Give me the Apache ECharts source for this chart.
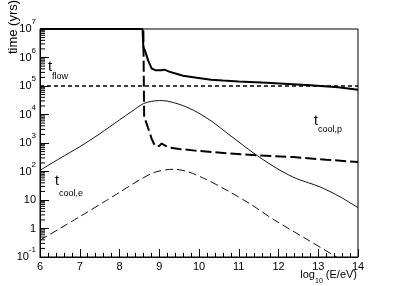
<!DOCTYPE html>
<html><head><meta charset="utf-8">
<script src="https://cdn.jsdelivr.net/npm/echarts@6/dist/echarts.min.js"></script>
<style>html,body{margin:0;padding:0;background:#fff}#c{width:398px;height:286px}</style>
</head><body><div id="c"></div>
<script>
// axis ticks
const xTicks = [6, 7, 8, 9, 10, 11, 12, 13, 14];
const yDecades = [-1, 0, 1, 2, 3, 4, 5, 6, 7];

// thick solid curve
const thickSolidE = [6, 8.58, 8.6, 8.64, 8.72, 8.81, 8.9, 9.05, 9.13, 9.17, 9.25, 9.6, 9.9, 10.3, 10.6, 11.0, 11.7, 12.8, 13.5, 14];
const thickSolidT = [1e7, 1e7, 2.2e6, 1.78e6, 7.9e5, 4.1e5, 3.6e5, 3.6e5, 3.75e5, 3.5e5, 3.2e5, 2.3e5, 2.0e5, 1.66e5, 1.55e5, 1.45e5, 1.3e5, 1.07e5, 9.1e4, 7.4e4];

// thick dashed curve
const thickDashE = [6, 8.6, 8.62, 8.64, 8.68, 8.75, 8.81, 8.89, 9.0, 9.06, 9.1, 9.16, 9.25, 9.5, 9.9, 10.78, 11.45, 12.37, 13.2, 14];
const thickDashT = [1e7, 1e7, 8100, 7100, 4900, 2500, 1400, 800, 780, 960, 850, 790, 700, 620, 540, 430, 370, 320, 260, 214];

// thin solid curve (t_cool,p)
const thinSolidE = [6, 6.5, 7, 7.5, 8, 8.3, 8.6, 8.8, 9.0, 9.2, 9.5, 9.86, 10.3, 10.78, 11.45, 12.04, 12.46, 13.04, 13.55, 14];
const thinSolidT = [110, 290, 740, 2090, 6460, 12600, 24000, 28800, 30900, 29500, 22900, 14100, 6030, 1860, 372, 110, 56, 29, 12.9, 5.4];

// thin dashed curve (t_cool,e)
const thinDashE = [6, 6.5, 7, 7.68, 8, 8.52, 8.9, 9.35, 9.7, 10.19, 10.78, 11.3, 11.87, 12.71, 13.46, 13.6];
const thinDashT = [0.39, 1.0, 2.6, 9.8, 18.6, 52, 95, 120, 100, 52, 19, 7.1, 2.1, 0.42, 0.1, 0.076];

// t_flow
const flowE = [6, 14];
const flowT = [1e5, 1e5];

const zip = (a, b) => a.map((v, i) => [v, b[i]]);

// log minor tick positions (2..9 x 10^k)
const minorY = [];
for (let k = yDecades[0]; k < yDecades[yDecades.length - 1]; k++) {
  for (let m = 2; m <= 9; m++) minorY.push([xTicks[0], m * Math.pow(10, k)]);
}

const FONT = '"Liberation Sans", Arial, Helvetica, sans-serif';
const chart = echarts.init(document.getElementById('c'), null, {renderer: 'canvas'});

chart.setOption({
  animation: false,
  backgroundColor: '#fff',
  grid: {left: 40, top: 29, width: 318, height: 228, show: true, borderColor: '#000', borderWidth: 1, containLabel: false},
  xAxis: {
    type: 'value', min: xTicks[0], max: xTicks[xTicks.length - 1], interval: 1,
    axisLine: {lineStyle: {color: '#000', width: 1}},
    axisTick: {inside: true, length: 8, lineStyle: {color: '#000'}},
    minorTick: {show: true, splitNumber: 5, length: 4, lineStyle: {color: '#000'}},
    splitLine: {show: false},
    axisLabel: {color: '#000', fontSize: 11, fontFamily: FONT, margin: 4}
  },
  yAxis: {
    type: 'log', logBase: 10, min: 0.1, max: 1e7,
    axisLine: {lineStyle: {color: '#000', width: 1}},
    axisTick: {inside: true, length: 9, lineStyle: {color: '#000'}},
    splitLine: {show: false},
    axisLabel: {
      margin: 4, color: '#000', fontFamily: FONT,
      formatter: function (v) {
        const e = Math.round(Math.log10(v));
        if (e === 0) return '{b|1}';
        if (e === 1) return '{b|10}';
        return '{b|10}{s|' + e + '}';
      },
      rich: {
        b: {fontSize: 11, lineHeight: 22, fontFamily: FONT, color: '#000'},
        s: {fontSize: 8, lineHeight: 8, verticalAlign: 'top', fontFamily: FONT, color: '#000'}
      }
    }
  },
  series: [
    {type: 'line', data: zip(thickSolidE, thickSolidT), showSymbol: false, lineStyle: {color: '#000', width: 2}, z: 5},
    {type: 'line', data: zip(thickDashE, thickDashT), showSymbol: false, lineStyle: {color: '#000', width: 2, type: [11, 4]}, z: 5},
    {type: 'line', data: zip(thinSolidE, thinSolidT), showSymbol: false, smooth: 0.3, lineStyle: {color: '#111', width: 1}, z: 4},
    {type: 'line', data: zip(thinDashE, thinDashT), showSymbol: false, smooth: 0.3, lineStyle: {color: '#111', width: 1, type: [8, 4]}, z: 4},
    {type: 'line', data: zip(flowE, flowT), showSymbol: false, lineStyle: {color: '#000', width: 1.5, type: [4, 3]}, z: 4},
    {
      type: 'custom', data: minorY, silent: true, z: 6,
      renderItem: function (params, api) {
        const p = api.coord([api.value(0), api.value(1)]);
        return {type: 'line', shape: {x1: p[0], y1: p[1], x2: p[0] + 5, y2: p[1]}, style: {stroke: '#000', lineWidth: 1}};
      }
    }
  ],
  graphic: [
    {type: 'text', x: 13, y: 27, rotation: Math.PI / 2, style: {text: 'time (yrs)', font: '13px ' + FONT, fill: '#000', align: 'center', verticalAlign: 'middle'}},
    {type: 'text', x: 48, y: 67, style: {text: 't', font: '15px ' + FONT, fill: '#000', align: 'left', verticalAlign: 'middle'}},
    {type: 'text', x: 52, y: 77, style: {text: 'flow', font: '9px ' + FONT, fill: '#000', align: 'left', verticalAlign: 'middle'}},
    {type: 'text', x: 55, y: 181, style: {text: 't', font: '14px ' + FONT, fill: '#000', align: 'left', verticalAlign: 'middle'}},
    {type: 'text', x: 59, y: 194, style: {text: 'cool,e', font: '9px ' + FONT, fill: '#000', align: 'left', verticalAlign: 'middle'}},
    {type: 'text', x: 314, y: 121, style: {text: 't', font: '14px ' + FONT, fill: '#000', align: 'left', verticalAlign: 'middle'}},
    {type: 'text', x: 318, y: 130, style: {text: 'cool,p', font: '9px ' + FONT, fill: '#000', align: 'left', verticalAlign: 'middle'}},
    {type: 'text', x: 357, y: 275, style: {
      text: '{a|log}{s|10}{a| (E/eV)}', fill: '#000', align: 'right', verticalAlign: 'middle',
      rich: {
        a: {fontSize: 11, lineHeight: 20, fontFamily: FONT, color: '#000'},
        s: {fontSize: 7, lineHeight: 8, verticalAlign: 'bottom', fontFamily: FONT, color: '#000'}
      }
    }}
  ]
});
</script>
</body></html>
